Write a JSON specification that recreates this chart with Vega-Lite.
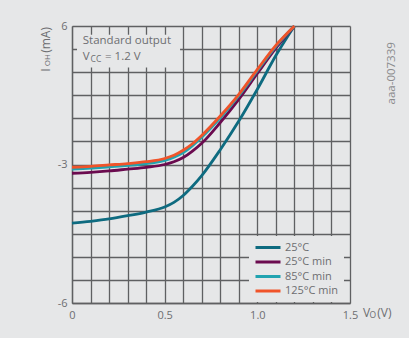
{
  "$schema": "https://vega.github.io/schema/vega-lite/v6.json",
  "autosize": {"type": "none"},
  "padding": {"left": 72, "top": 26, "right": 59, "bottom": 35},
  "width": 278,
  "height": 277,
  "background": "#e6e7e8",
  "config": {
    "view": {"stroke": null, "fill": "#e6e7e8"},
    "font": "Open Sans",
    "text": {"font": "Open Sans", "color": "#6d6e71"}
  },
  "resolve": {"axis": {"x": "independent", "y": "independent"}},
  "layer": [
    {
      "data": {"values": [
        {"v": 0, "i": -4.27, "s": "25°C"}, {"v": 0.1, "i": -4.23, "s": "25°C"}, {"v": 0.2, "i": -4.18, "s": "25°C"},
        {"v": 0.3, "i": -4.11, "s": "25°C"}, {"v": 0.4, "i": -4.03, "s": "25°C"}, {"v": 0.5, "i": -3.92, "s": "25°C"},
        {"v": 0.55, "i": -3.82, "s": "25°C"}, {"v": 0.6, "i": -3.67, "s": "25°C"}, {"v": 0.65, "i": -3.47, "s": "25°C"},
        {"v": 0.7, "i": -3.24, "s": "25°C"}, {"v": 0.8, "i": -2.68, "s": "25°C"}, {"v": 0.9, "i": -2.06, "s": "25°C"},
        {"v": 1.0, "i": -1.37, "s": "25°C"}, {"v": 1.1, "i": -0.64, "s": "25°C"}, {"v": 1.2, "i": 0, "s": "25°C"},
        {"v": 0, "i": -3.19, "s": "25°C min"}, {"v": 0.1, "i": -3.17, "s": "25°C min"}, {"v": 0.2, "i": -3.14, "s": "25°C min"},
        {"v": 0.3, "i": -3.10, "s": "25°C min"}, {"v": 0.4, "i": -3.06, "s": "25°C min"}, {"v": 0.5, "i": -3.0, "s": "25°C min"},
        {"v": 0.55, "i": -2.94, "s": "25°C min"}, {"v": 0.6, "i": -2.85, "s": "25°C min"}, {"v": 0.65, "i": -2.71, "s": "25°C min"},
        {"v": 0.7, "i": -2.54, "s": "25°C min"}, {"v": 0.8, "i": -2.09, "s": "25°C min"}, {"v": 0.9, "i": -1.59, "s": "25°C min"},
        {"v": 1.0, "i": -1.03, "s": "25°C min"}, {"v": 1.1, "i": -0.48, "s": "25°C min"}, {"v": 1.2, "i": 0, "s": "25°C min"},
        {"v": 0, "i": -3.10, "s": "85°C min"}, {"v": 0.1, "i": -3.08, "s": "85°C min"}, {"v": 0.2, "i": -3.05, "s": "85°C min"},
        {"v": 0.3, "i": -3.02, "s": "85°C min"}, {"v": 0.4, "i": -2.98, "s": "85°C min"}, {"v": 0.5, "i": -2.91, "s": "85°C min"},
        {"v": 0.55, "i": -2.84, "s": "85°C min"}, {"v": 0.6, "i": -2.74, "s": "85°C min"}, {"v": 0.65, "i": -2.59, "s": "85°C min"},
        {"v": 0.7, "i": -2.41, "s": "85°C min"}, {"v": 0.8, "i": -1.99, "s": "85°C min"}, {"v": 0.9, "i": -1.51, "s": "85°C min"},
        {"v": 1.0, "i": -0.97, "s": "85°C min"}, {"v": 1.1, "i": -0.44, "s": "85°C min"}, {"v": 1.2, "i": 0, "s": "85°C min"},
        {"v": 0, "i": -3.06, "s": "125°C min"}, {"v": 0.1, "i": -3.04, "s": "125°C min"}, {"v": 0.2, "i": -3.01, "s": "125°C min"},
        {"v": 0.3, "i": -2.98, "s": "125°C min"}, {"v": 0.4, "i": -2.94, "s": "125°C min"}, {"v": 0.5, "i": -2.87, "s": "125°C min"},
        {"v": 0.55, "i": -2.80, "s": "125°C min"}, {"v": 0.6, "i": -2.69, "s": "125°C min"}, {"v": 0.65, "i": -2.55, "s": "125°C min"},
        {"v": 0.7, "i": -2.37, "s": "125°C min"}, {"v": 0.8, "i": -1.95, "s": "125°C min"}, {"v": 0.9, "i": -1.48, "s": "125°C min"},
        {"v": 1.0, "i": -0.94, "s": "125°C min"}, {"v": 1.1, "i": -0.42, "s": "125°C min"}, {"v": 1.2, "i": 0, "s": "125°C min"}
      ]},
      "mark": {"type": "line", "strokeWidth": 2.8, "interpolate": "monotone"},
      "encoding": {
        "x": {
          "field": "v", "type": "quantitative",
          "scale": {"domain": [0, 1.5], "nice": false},
          "axis": {
            "title": null,
            "values": [0, 0.1, 0.2, 0.3, 0.4, 0.5, 0.6, 0.7, 0.8, 0.9, 1, 1.1, 1.2, 1.3, 1.4, 1.5],
            "labelExpr": "datum.value == 0 ? '0' : (datum.value == 0.5 ? '0.5' : (datum.value == 1 ? '1.0' : (datum.value == 1.5 ? '1.5' : '')))",
            "labelOverlap": false, "labelFlush": false,
            "ticks": false, "labelPadding": 6,
            "labelFontSize": 11, "labelColor": "#6d6e71", "labelFont": "Open Sans",
            "grid": true, "gridColor": "#5f6062", "gridWidth": 1.3,
            "domainColor": "#5f6062", "domainWidth": 1.3
          }
        },
        "y": {
          "field": "i", "type": "quantitative",
          "scale": {"domain": [-6, 0], "nice": false},
          "axis": {
            "title": null,
            "values": [-6, -5.5, -5, -4.5, -4, -3.5, -3, -2.5, -2, -1.5, -1, -0.5, 0],
            "labelExpr": "datum.value == 0 ? '6' : (datum.value == -3 ? '-3' : (datum.value == -6 ? '-6' : ''))",
            "labelOverlap": false, "labelFlush": false,
            "ticks": false, "labelPadding": 5,
            "labelFontSize": 11, "labelColor": "#6d6e71", "labelFont": "Open Sans",
            "grid": true, "gridColor": "#5f6062", "gridWidth": 1.3,
            "domainColor": "#5f6062", "domainWidth": 1.3
          }
        },
        "color": {
          "field": "s", "type": "nominal",
          "scale": {"domain": ["25°C", "25°C min", "85°C min", "125°C min"], "range": ["#0e6b80", "#6b0b4f", "#21a3b0", "#f0542a"]},
          "legend": {
            "title": null, "orient": "none", "legendX": 177, "legendY": 210,
            "fillColor": "#e6e7e8", "padding": 5,
            "symbolType": "M-1,0H4", "symbolSize": 100, "symbolStrokeWidth": 3,
            "labelFontSize": 11, "labelColor": "#6d6e71", "labelFont": "Open Sans",
            "labelOffset": 18, "rowPadding": 1.5
          }
        }
      }
    },
    {
      "data": {"values": [{"k": "note"}]},
      "mark": {"type": "rect", "fill": "#e6e7e8"},
      "encoding": {
        "x": {"datum": 0.027, "type": "quantitative", "scale": {"domain": [0, 1.5], "nice": false}, "axis": null},
        "x2": {"datum": 0.583},
        "y": {"datum": -0.19, "type": "quantitative", "scale": {"domain": [-6, 0], "nice": false}, "axis": null},
        "y2": {"datum": -0.9}
      }
    },
    {
      "data": {"values": [{"t": "Standard output"}]},
      "mark": {"type": "text", "align": "left", "baseline": "middle", "fontSize": 11.5},
      "encoding": {
        "x": {"datum": 0.058, "type": "quantitative", "scale": {"domain": [0, 1.5], "nice": false}, "axis": null},
        "y": {"datum": -0.33, "type": "quantitative", "scale": {"domain": [-6, 0], "nice": false}, "axis": null},
        "text": {"field": "t"}
      }
    },
    {
      "data": {"values": [{"t": "V"}]},
      "mark": {"type": "text", "align": "left", "baseline": "middle", "fontSize": 11.5},
      "encoding": {
        "x": {"datum": 0.058, "type": "quantitative", "scale": {"domain": [0, 1.5], "nice": false}, "axis": null},
        "y": {"datum": -0.67, "type": "quantitative", "scale": {"domain": [-6, 0], "nice": false}, "axis": null},
        "text": {"field": "t"}
      }
    },
    {
      "data": {"values": [{"t": "CC"}]},
      "mark": {"type": "text", "align": "left", "baseline": "middle", "fontSize": 8.5},
      "encoding": {
        "x": {"datum": 0.1, "type": "quantitative", "scale": {"domain": [0, 1.5], "nice": false}, "axis": null},
        "y": {"datum": -0.71, "type": "quantitative", "scale": {"domain": [-6, 0], "nice": false}, "axis": null},
        "text": {"field": "t"}
      }
    },
    {
      "data": {"values": [{"t": "= 1.2 V"}]},
      "mark": {"type": "text", "align": "left", "baseline": "middle", "fontSize": 11.5},
      "encoding": {
        "x": {"datum": 0.178, "type": "quantitative", "scale": {"domain": [0, 1.5], "nice": false}, "axis": null},
        "y": {"datum": -0.67, "type": "quantitative", "scale": {"domain": [-6, 0], "nice": false}, "axis": null},
        "text": {"field": "t"}
      }
    },
    {
      "data": {"values": [{"t": "I"}]},
      "mark": {"type": "text", "align": "left", "baseline": "middle", "fontSize": 12, "angle": 270},
      "encoding": {
        "x": {"datum": -0.14, "type": "quantitative", "scale": {"domain": [0, 1.5], "nice": false}, "axis": null},
        "y": {"datum": -0.99, "type": "quantitative", "scale": {"domain": [-6, 0], "nice": false}, "axis": null},
        "text": {"field": "t"}
      }
    },
    {
      "data": {"values": [{"t": "OH"}]},
      "mark": {"type": "text", "align": "left", "baseline": "middle", "fontSize": 8, "angle": 270},
      "encoding": {
        "x": {"datum": -0.129, "type": "quantitative", "scale": {"domain": [0, 1.5], "nice": false}, "axis": null},
        "y": {"datum": -0.87, "type": "quantitative", "scale": {"domain": [-6, 0], "nice": false}, "axis": null},
        "text": {"field": "t"}
      }
    },
    {
      "data": {"values": [{"t": "(mA)"}]},
      "mark": {"type": "text", "align": "left", "baseline": "middle", "fontSize": 12, "angle": 270},
      "encoding": {
        "x": {"datum": -0.14, "type": "quantitative", "scale": {"domain": [0, 1.5], "nice": false}, "axis": null},
        "y": {"datum": -0.58, "type": "quantitative", "scale": {"domain": [-6, 0], "nice": false}, "axis": null},
        "text": {"field": "t"}
      }
    },
    {
      "data": {"values": [{"t": "V"}]},
      "mark": {"type": "text", "align": "left", "baseline": "middle", "fontSize": 12},
      "encoding": {
        "x": {"datum": 1.57, "type": "quantitative", "scale": {"domain": [0, 1.5], "nice": false}, "axis": null},
        "y": {"datum": -6.22, "type": "quantitative", "scale": {"domain": [-6, 0], "nice": false}, "axis": null},
        "text": {"field": "t"}
      }
    },
    {
      "data": {"values": [{"t": "O"}]},
      "mark": {"type": "text", "align": "left", "baseline": "middle", "fontSize": 8.5},
      "encoding": {
        "x": {"datum": 1.605, "type": "quantitative", "scale": {"domain": [0, 1.5], "nice": false}, "axis": null},
        "y": {"datum": -6.27, "type": "quantitative", "scale": {"domain": [-6, 0], "nice": false}, "axis": null},
        "text": {"field": "t"}
      }
    },
    {
      "data": {"values": [{"t": "(V)"}]},
      "mark": {"type": "text", "align": "left", "baseline": "middle", "fontSize": 12},
      "encoding": {
        "x": {"datum": 1.647, "type": "quantitative", "scale": {"domain": [0, 1.5], "nice": false}, "axis": null},
        "y": {"datum": -6.22, "type": "quantitative", "scale": {"domain": [-6, 0], "nice": false}, "axis": null},
        "text": {"field": "t"}
      }
    },
    {
      "data": {"values": [{"t": "aaa-007339"}]},
      "mark": {"type": "text", "align": "left", "baseline": "middle", "fontSize": 11.5, "angle": 270, "color": "#8a8b8d"},
      "encoding": {
        "x": {"datum": 1.727, "type": "quantitative", "scale": {"domain": [0, 1.5], "nice": false}, "axis": null},
        "y": {"datum": -1.7, "type": "quantitative", "scale": {"domain": [-6, 0], "nice": false}, "axis": null},
        "text": {"field": "t"}
      }
    }
  ]
}
